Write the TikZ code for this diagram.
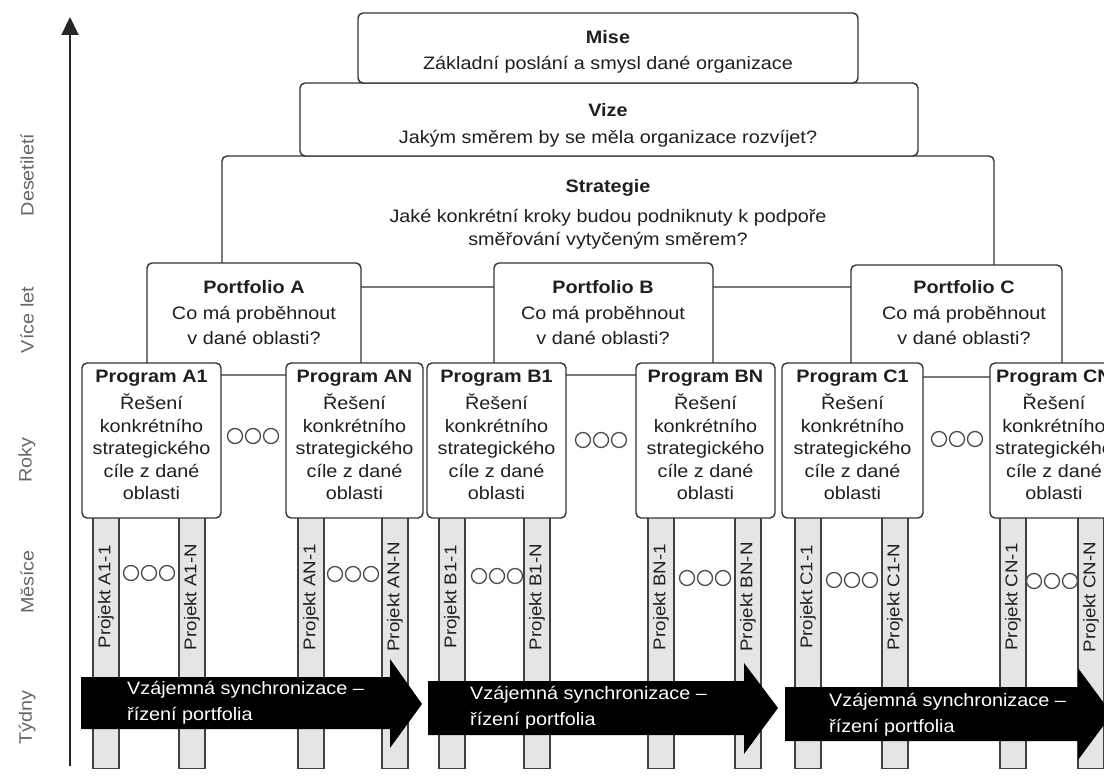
\documentclass[tikz,border=0pt]{standalone}
\usepackage{fontspec}
\setmainfont{Liberation Sans}[FakeStretch=1.1]
\usetikzlibrary{arrows.meta,fit}

% project bar: name, x centre, label
\newcommand\projbar[3]{%
  \node[bar, anchor=north] (#1) at (#2,508) {};
  \node[bartxt, rotate=90] (#1t) at (#2,597) {#3};}
% three small rings: name, x centre, y centre
\newcommand\rings[3]{%
  \node[ring] (#1a) at ({#2-18},#3) {};
  \node[ring] (#1b) at (#2,#3) {};
  \node[ring] (#1c) at ({#2+18},#3) {};}

\begin{document}
\begin{tikzpicture}[x=1pt,y=-1pt,
  box/.style={draw=black!80, line width=1.4pt, fill=white, rounded corners=5pt, inner sep=0pt},
  bar/.style={draw=black!75, line width=1.2pt, fill=black!10, inner sep=0pt,
              minimum width=26pt, minimum height=260pt},
  txt/.style={text=black!88, inner sep=0pt, align=center, font=\fontsize{18}{22.5}\selectfont},
  ttl/.style={txt, font=\fontsize{18}{22.5}\selectfont\bfseries},
  bartxt/.style={text=black!88, inner sep=0pt, font=\fontsize{17}{20}\selectfont},
  side/.style={text=black!60, inner sep=0pt, rotate=90, font=\fontsize{18}{20}\selectfont},
  ring/.style={circle, draw=black!70, line width=1.3pt, minimum size=15pt, inner sep=0pt},
  sync/.style={fill=black},
  synctxt/.style={text=white, inner sep=0pt, align=left, anchor=west, font=\fontsize{18}{26}\selectfont},
  axis/.style={draw=black!85, line width=2pt, -{Triangle[length=18pt,width=17pt]}}
]
\useasboundingbox (0,0) rectangle (1104,776);

% time axis and its scale
\coordinate (axisbot) at (70,766);
\coordinate (axistop) at (70,17);
\draw[axis] (axisbot) -- (axistop);
\node[side] (l1) at (27,175) {Desetiletí};
\node[side] (l2) at (27,320) {Více let};
\node[side] (l3) at (27,460) {Roky};
\node[side] (l4) at (27,582) {Měsíce};
\node[side] (l5) at (27,718) {Týdny};

% project bars
\projbar{pA11}{106}{Projekt A1-1}
\projbar{pA1N}{192}{Projekt A1-N}
\projbar{pAN1}{311}{Projekt AN-1}
\projbar{pANN}{395}{Projekt AN-N}
\projbar{pB11}{452}{Projekt B1-1}
\projbar{pB1N}{537}{Projekt B1-N}
\projbar{pBN1}{661}{Projekt BN-1}
\projbar{pBNN}{748}{Projekt BN-N}
\projbar{pC11}{808}{Projekt C1-1}
\projbar{pC1N}{895}{Projekt C1-N}
\projbar{pCN1}{1013}{Projekt CN-1}
\projbar{pCNN}{1091}{Projekt CN-N}

\rings{rA1}{149}{573}
\rings{rAN}{353}{574}
\rings{rB1}{497}{576}
\rings{rBN}{705}{578}
\rings{rC1}{852}{580}
\rings{rCN}{1052}{581}

% strategic levels
\node[box, fit={(222,156) (994,287)}] (strategie) {};
\node[box, fit={(300,83) (918,156)}] (vize) {};
\node[box, fit={(358,13) (858,83)}] (mise) {};
\node[ttl] (miset) at (608,37) {Mise};
\node[txt] (mised) at (608,65) {Základní poslání a smysl dané organizace};
\node[ttl] (vizet) at (608,110) {Vize};
\node[txt] (vized) at (608,139) {Jakým směrem by se měla organizace rozvíjet?};
\node[ttl] (strategiet) at (608,188) {Strategie};
\node[txt] (strategied) at (608,229) {Jaké konkrétní kroky budou podniknuty k podpoře\\směřování vytyčeným směrem?};

% portfolios
\node[box, fit={(147,263) (361,375)}] (portA) {};
\node[box, fit={(494,263) (713,375)}] (portB) {};
\node[box, fit={(851,265) (1062,377)}] (portC) {};
\foreach \n/\x/\l in {portA/254/A, portB/603/B, portC/964/C}{
  \node[ttl] (\n t) at (\x,287) {Portfolio \l};
  \node[txt, font=\fontsize{18}{25}\selectfont] (\n d) at (\x,325.5) {Co má proběhnout\\v dané oblasti?};
}

% programmes
\foreach \n/\a/\b/\c/\l in {progA1/82/221/151.5/A1, progAN/286/423/354.5/AN,
                             progB1/427/566/496.5/B1, progBN/636/775/705.5/BN,
                             progC1/782/923/852.5/C1, progCN/990/1118/1054/CN}{
  \node[box, fit={(\a,363) (\b,518)}] (\n) {};
  \node[ttl] (\n t) at (\c,378) {Program \l};
  \node[txt] (\n d) at (\c,447) {Řešení\\konkrétního\\strategického\\cíle z dané\\oblasti};
}

\rings{rpA}{253}{436}
\rings{rpB}{601}{440}
\rings{rpC}{957}{439}

% portfolio synchronisation arrows
\fill[sync] (81,677) -- (390,677) -- (390,659) -- (422,704) -- (390,748) -- (390,729) -- (81,729) -- cycle;
\fill[sync] (428,681) -- (744,681) -- (744,663) -- (778,708) -- (744,754) -- (744,735) -- (428,735) -- cycle;
\fill[sync] (785,687) -- (1078,687) -- (1078,668) -- (1112,714) -- (1078,760) -- (1078,741) -- (785,741) -- cycle;
\node[synctxt] (s1) at (127,703) {Vzájemná synchronizace –\\řízení portfolia};
\node[synctxt] (s2) at (470,708) {Vzájemná synchronizace –\\řízení portfolia};
\node[synctxt] (s3) at (829,715) {Vzájemná synchronizace –\\řízení portfolia};
\end{tikzpicture}
\end{document}
